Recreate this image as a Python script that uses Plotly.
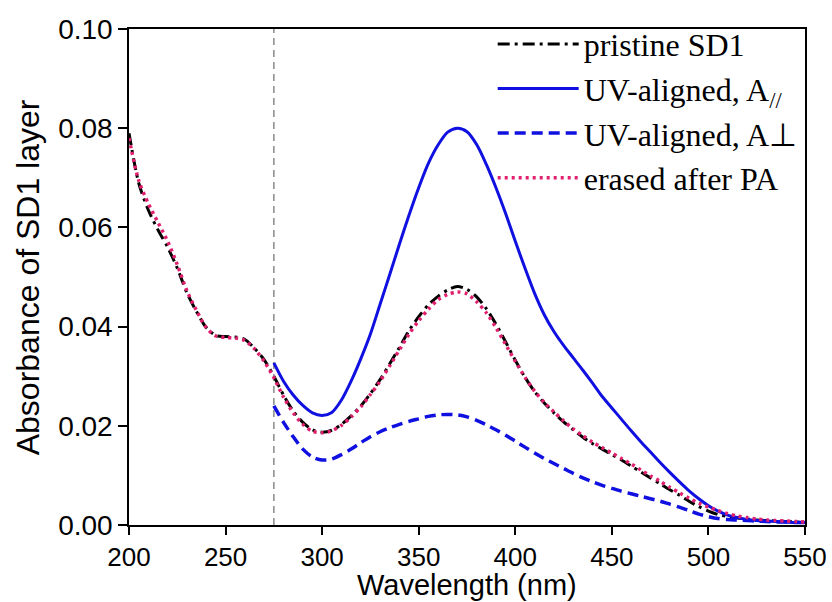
import plotly.graph_objects as go

# Wavelength grids (nm)
wavelength_full = list(range(200, 551, 5))
wavelength_uv = list(range(275, 551, 5))

# Absorbance of the SD1 layer
pristine_sd1 = [
    0.0790, 0.0690, 0.0635, 0.0595, 0.0560, 0.0518, 0.0468, 0.0430, 0.0398, 0.0382,
    0.0380, 0.0379, 0.0374, 0.0356, 0.0333, 0.0300, 0.0262, 0.0230, 0.0207, 0.0192,
    0.0187, 0.0191, 0.0203, 0.0220, 0.0240, 0.0265, 0.0293, 0.0325, 0.0358, 0.0392,
    0.0420, 0.0444, 0.0461, 0.0474, 0.0481, 0.0475, 0.0460, 0.0436, 0.0405, 0.0369,
    0.0332, 0.0298, 0.0269, 0.0246, 0.0226, 0.0208, 0.0192, 0.0177, 0.0164, 0.0153,
    0.0142, 0.0131, 0.0119, 0.0107, 0.0095, 0.0083, 0.0071, 0.0060, 0.0048, 0.0037,
    0.0028, 0.0021, 0.0017, 0.0014, 0.0012, 0.0010, 0.0009, 0.0008, 0.0007, 0.0006,
    0.0005,
]
erased_after_pa = [
    0.0780, 0.0695, 0.0648, 0.0610, 0.0572, 0.0525, 0.0472, 0.0432, 0.0398, 0.0381,
    0.0378, 0.0377, 0.0372, 0.0355, 0.0330, 0.0297, 0.0258, 0.0226, 0.0203, 0.0189,
    0.0186, 0.0190, 0.0201, 0.0218, 0.0238, 0.0263, 0.0290, 0.0321, 0.0353, 0.0385,
    0.0412, 0.0435, 0.0454, 0.0465, 0.0470, 0.0466, 0.0450, 0.0428, 0.0398, 0.0364,
    0.0330, 0.0298, 0.0270, 0.0247, 0.0228, 0.0210, 0.0194, 0.0180, 0.0167, 0.0156,
    0.0145, 0.0134, 0.0123, 0.0111, 0.0099, 0.0088, 0.0076, 0.0065, 0.0054, 0.0044,
    0.0036, 0.0029, 0.0023, 0.0018, 0.0015, 0.0012, 0.0010, 0.0009, 0.0008, 0.0007,
    0.0006,
]
uv_parallel = [
    0.0327, 0.0290, 0.0262, 0.0241, 0.0226, 0.0221, 0.0227, 0.0252, 0.0290, 0.0335,
    0.0385, 0.0445, 0.0505, 0.0566, 0.0625, 0.0680, 0.0729, 0.0766, 0.0792, 0.0800,
    0.0793, 0.0767, 0.0727, 0.0680, 0.0628, 0.0572, 0.0518, 0.0467, 0.0424, 0.0390,
    0.0362, 0.0337, 0.0312, 0.0286, 0.0259, 0.0236, 0.0213, 0.0190, 0.0168, 0.0147,
    0.0126, 0.0106, 0.0087, 0.0069, 0.0053, 0.0039, 0.0028, 0.0020, 0.0015, 0.0011,
    0.0009, 0.0008, 0.0007, 0.0006, 0.0005, 0.0005,
]
uv_perpendicular = [
    0.0240, 0.0207, 0.0178, 0.0153, 0.0137, 0.0131, 0.0133, 0.0142, 0.0153, 0.0166,
    0.0178, 0.0188, 0.0196, 0.0203, 0.0209, 0.0214, 0.0219, 0.0222, 0.0223, 0.0222,
    0.0218, 0.0211, 0.0202, 0.0192, 0.0181, 0.0169, 0.0157, 0.0145, 0.0134, 0.0124,
    0.0114, 0.0104, 0.0095, 0.0087, 0.0080, 0.0074, 0.0068, 0.0063, 0.0058, 0.0053,
    0.0048, 0.0042, 0.0036, 0.0029, 0.0022, 0.0017, 0.0013, 0.0011, 0.0010, 0.0009,
    0.0008, 0.0007, 0.0006, 0.0006, 0.0005, 0.0005,
]

# Wavelength where the UV-aligned measurements start
uv_start = 275

x_ticks = [200, 250, 300, 350, 400, 450, 500, 550]
y_ticks = [0.00, 0.02, 0.04, 0.06, 0.08, 0.10]

x_title = "Wavelength (nm)"
y_title = "Absorbance of SD1 layer"

BLUE = "#1010e0"
PINK = "#e0206e"
SANS = "Liberation Sans, Arial, sans-serif"
SERIF = "Liberation Serif, Times New Roman, serif"

fig = go.Figure()
fig.add_trace(go.Scatter(
    x=wavelength_full, y=pristine_sd1, mode="lines", name="pristine SD1",
    line=dict(color="black", width=3, dash="12px,5px,3px,5px", shape="spline", smoothing=0.8),
    legendgroup="a",
))
fig.add_trace(go.Scatter(
    x=wavelength_uv, y=uv_parallel, mode="lines", name="UV-aligned, A<sub>//</sub>",
    line=dict(color=BLUE, width=3, shape="spline", smoothing=0.8),
    legendgroup="b",
))
fig.add_trace(go.Scatter(
    x=wavelength_uv, y=uv_perpendicular, mode="lines", name="UV-aligned, A\u22a5",
    line=dict(color=BLUE, width=3.5, dash="11px,6px", shape="spline", smoothing=0.8),
    legendgroup="c",
))
fig.add_trace(go.Scatter(
    x=wavelength_full, y=erased_after_pa, mode="lines", name="erased after PA",
    line=dict(color=PINK, width=3.5, dash="3px,4px", shape="spline", smoothing=0.8),
    legendgroup="d",
))

fig.add_shape(
    type="line", xref="x", yref="paper", x0=uv_start, x1=uv_start, y0=0, y1=1,
    line=dict(color="#8a8a8a", width=1.5, dash="7px,5px"), layer="below",
)

# Axis titles placed as annotations for precise positioning
fig.add_annotation(
    text=x_title, xref="paper", yref="paper", x=0.5, y=-0.155,
    xanchor="center", yanchor="bottom", showarrow=False, borderpad=0,
    font=dict(family=SANS, size=29, color="black"),
)
fig.add_annotation(
    text=y_title, xref="paper", yref="paper", x=-0.149, y=0.5,
    xanchor="center", yanchor="middle", textangle=-90, showarrow=False,
    font=dict(family=SANS, size=32, color="black"),
)

axis_common = dict(
    showline=True, linecolor="black", linewidth=1.5, mirror=True,
    ticks="outside", tickwidth=1.5, tickcolor="black",
    showgrid=False, zeroline=False, automargin=False,
)

fig.update_layout(
    width=832, height=602,
    margin=dict(l=129, r=27, t=29, b=77),
    paper_bgcolor="white", plot_bgcolor="white",
    showlegend=True,
    legend=dict(
        x=0.538, y=1.025, xanchor="left", yanchor="top",
        bgcolor="rgba(0,0,0,0)", borderwidth=0,
        font=dict(family=SERIF, size=32, color="black"),
        itemwidth=81, tracegroupgap=0,
    ),
    xaxis=dict(
        range=[200, 550], tickvals=x_ticks, ticklen=8,
        tickfont=dict(family=SANS, size=26, color="black"),
        **axis_common,
    ),
    yaxis=dict(
        range=[0, 0.1], tickvals=y_ticks, tickformat=".2f", ticklen=9,
        tickfont=dict(family=SANS, size=28, color="black"),
        **axis_common,
    ),
)

fig.write_html("out.html")
